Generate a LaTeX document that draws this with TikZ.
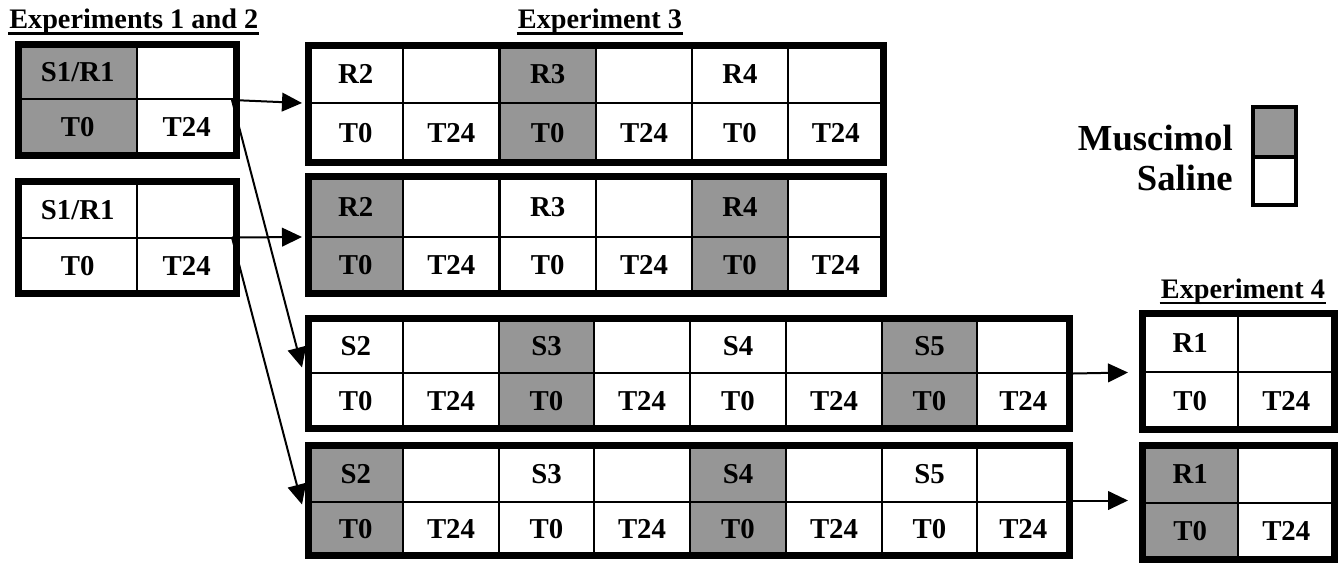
\documentclass[tikz,border=0pt]{standalone}
\usepackage{fontspec}
\setmainfont{Liberation Serif}
\usetikzlibrary{fit,calc,arrows.meta}
\definecolor{musc}{RGB}{150,150,150}
% #1 xa, #2 xm, #3 xb, #4 y0, #5 ymid, #6 y1, #7 fill, #8 label, #9 name
\newcommand\pairc[9]{%
  \fill[#7] (#1,#4) rectangle (#2,#6);
  \draw[gridline] (#1,#4) -- (#1,#6) (#2,#4) -- (#2,#6);
  \node[lbl] (#9-lab) at ({(#1+#2)/2},{(#4+#5)/2+9.5}) {#8};
  \node[lbl] (#9-t0) at ({(#1+#2)/2},{(#5+#6)/2+9.5}) {T0};
  \node[lbl] (#9-t24) at ({(#2+#3)/2},{(#5+#6)/2+9.5}) {T24};
}
\begin{document}
\begin{tikzpicture}[x=0.75pt,y=-0.75pt,
  lbl/.style={font=\bfseries\fontsize{21.6}{25}\selectfont, inner sep=0pt, anchor=base},
  ttl/.style={font=\bfseries\fontsize{21.2}{25}\selectfont, inner sep=0pt, anchor=base},
  leg/.style={font=\bfseries\fontsize{27.5}{32}\selectfont, inner sep=0pt, anchor=base east},
  gridline/.style={line width=2pt},
  frame/.style={draw, line width=5.25pt, inner sep=0pt},
  uline/.style={line width=1.9pt},
  arr/.style={line width=1.5pt, -{Triangle[length=15pt,width=14pt]}}]
\useasboundingbox (0,0) rectangle (1344,564);
\fill[white] (0,0) rectangle (1344,564);

% titles
\node[ttl, anchor=base west] (t12) at (9,28) {Experiments 1 and 2};
\draw[uline] ($(t12.base west)+(-1,5.5)$) -- ($(t12.base east)+(1,5.5)$);
\node[ttl] (t3) at (600,28) {Experiment 3};
\draw[uline] ($(t3.base west)+(-1,5.5)$) -- ($(t3.base east)+(1,5.5)$);
\node[ttl] (t4) at (1243,298) {Experiment 4};
\draw[uline] ($(t4.base west)+(-1,5)$) -- ($(t4.base east)+(1,5)$);

% Experiments 1 and 2
\pairc{18.5}{137}{236.5}{44.5}{99}{155.5}{musc}{S1/R1}{a1}
\draw[gridline] (18.5,99) -- (236.5,99);
\node[frame, fit={(18.5,44.5) (236.5,155.5)}] (A) {};

\pairc{18.5}{137}{236.5}{181.5}{238}{293.5}{white}{S1/R1}{b1}
\draw[gridline] (18.5,238) -- (236.5,238);
\node[frame, fit={(18.5,181.5) (236.5,293.5)}] (B) {};

% Experiment 3, R rows
\pairc{308.5}{403}{499.5}{45.5}{103}{162.5}{white}{R2}{c1}
\pairc{499.5}{596}{692}{45.5}{103}{162.5}{musc}{R3}{c2}
\pairc{692}{788}{883.5}{45.5}{103}{162.5}{white}{R4}{c3}
\draw[gridline] (308.5,103) -- (883.5,103);
\node[frame, fit={(308.5,45.5) (883.5,162.5)}] (E3a) {};

\pairc{308.5}{403}{499.5}{176.5}{237}{293.5}{musc}{R2}{d1}
\pairc{499.5}{596}{692}{176.5}{237}{293.5}{white}{R3}{d2}
\pairc{692}{788}{883.5}{176.5}{237}{293.5}{musc}{R4}{d3}
\draw[gridline] (308.5,237) -- (883.5,237);
\node[frame, fit={(308.5,176.5) (883.5,293.5)}] (E3b) {};

% Experiment 3, S rows
\pairc{308.5}{403}{499}{318.5}{373}{428.5}{white}{S2}{e1}
\pairc{499}{594}{690}{318.5}{373}{428.5}{musc}{S3}{e2}
\pairc{690}{786}{882}{318.5}{373}{428.5}{white}{S4}{e3}
\pairc{882}{977}{1069.5}{318.5}{373}{428.5}{musc}{S5}{e4}
\draw[gridline] (308.5,373) -- (1069.5,373);
\node[frame, fit={(308.5,318.5) (1069.5,428.5)}] (E3c) {};

\pairc{308.5}{403}{499}{445.5}{502}{555.5}{musc}{S2}{f1}
\pairc{499}{594}{690}{445.5}{502}{555.5}{white}{S3}{f2}
\pairc{690}{786}{882}{445.5}{502}{555.5}{musc}{S4}{f3}
\pairc{882}{977}{1069.5}{445.5}{502}{555.5}{white}{S5}{f4}
\draw[gridline] (308.5,502) -- (1069.5,502);
\node[frame, fit={(308.5,445.5) (1069.5,555.5)}] (E3d) {};

% Experiment 4
\pairc{1142.5}{1238}{1334.5}{313.5}{372}{429.5}{white}{R1}{g1}
\draw[gridline] (1142.5,372) -- (1334.5,372);
\node[frame, fit={(1142.5,313.5) (1334.5,429.5)}] (E4a) {};

\pairc{1142.5}{1238}{1334.5}{445.5}{503}{559.5}{musc}{R1}{h1}
\draw[gridline] (1142.5,503) -- (1334.5,503);
\node[frame, fit={(1142.5,445.5) (1334.5,559.5)}] (E4b) {};

% legend
\node[leg] (mus) at (1233,150) {Muscimol};
\node[leg] (sal) at (1233,190) {Saline};
\fill[musc] (1253,107) rectangle (1296,157);
\draw[line width=2.6pt] (1253,107) rectangle (1296,205) (1253,157) -- (1296,157);

% arrows
\coordinate (Ao) at ($(A.east)+(-8,0)$);
\coordinate (Bo) at ($(B.east)+(-8,0)$);
\draw[arr] (Ao) -- ($(E3a.west)+(-3,-1)$);
\draw[arr] (Bo) -- ($(E3b.west)+(-3,2)$);
\draw[arr] (Ao) -- ($(E3c.west)+(-3,-6)$);
\draw[arr] (Bo) -- ($(E3d.west)+(-3,4)$);
\draw[arr] (E3c.east) -- ($(E4a.west)+(-11,1)$);
\draw[arr] (E3d.east) -- ($(E4b.west)+(-11,-2)$);
\end{tikzpicture}
\end{document}
